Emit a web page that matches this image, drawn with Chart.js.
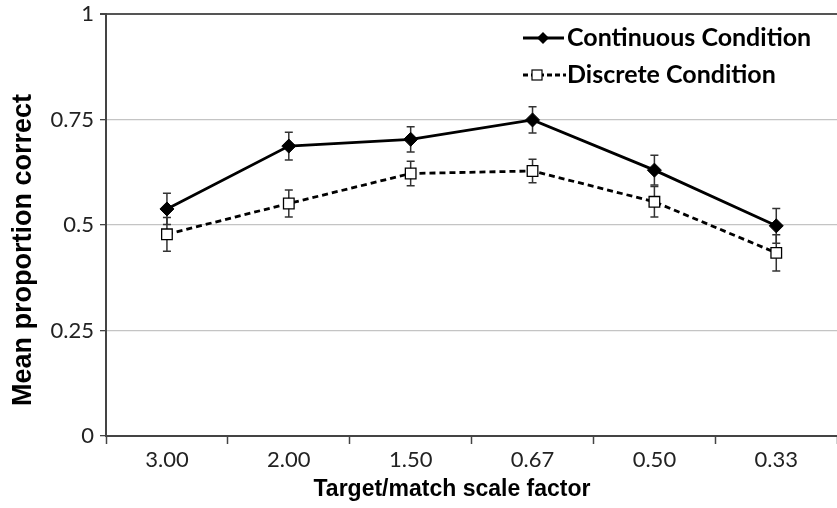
<!DOCTYPE html>
<html>
<head>
<meta charset="utf-8">
<script src="https://cdn.jsdelivr.net/npm/chart.js@4"></script>
<style>
  html, body { margin: 0; padding: 0; background: #fff; overflow: hidden; }
  #chart { display: block; }
</style>
</head>
<body>
<canvas id="chart" width="846" height="508"></canvas>
<script>
const categories = ['3.00', '2.00', '1.50', '0.67', '0.50', '0.33'];
const continuous = [0.538, 0.687, 0.703, 0.749, 0.630, 0.498];
const continuousErr = [0.037, 0.033, 0.030, 0.031, 0.035, 0.041];
const discrete = [0.478, 0.551, 0.622, 0.628, 0.555, 0.434];
const discreteErr = [0.040, 0.032, 0.029, 0.028, 0.036, 0.043];
const yTicks = [0, 0.25, 0.5, 0.75, 1];

const errors = [continuousErr, discreteErr];

// vertical error bars, drawn under the lines and markers
const errorBars = {
    id: 'errorBars',
    beforeDatasetsDraw(chart) {
        const ctx = chart.ctx;
        const y = chart.scales.y;
        ctx.save();
        ctx.strokeStyle = '#333';
        ctx.lineWidth = 1.5;
        chart.data.datasets.forEach((ds, di) => {
            const meta = chart.getDatasetMeta(di);
            meta.data.forEach((pt, i) => {
                const top = y.getPixelForValue(ds.data[i] + errors[di][i]);
                const bot = y.getPixelForValue(ds.data[i] - errors[di][i]);
                ctx.beginPath();
                ctx.moveTo(pt.x, top);
                ctx.lineTo(pt.x, bot);
                ctx.moveTo(pt.x - 4, top);
                ctx.lineTo(pt.x + 4, top);
                ctx.moveTo(pt.x - 4, bot);
                ctx.lineTo(pt.x + 4, bot);
                ctx.stroke();
            });
        });
        ctx.restore();
    }
};

// legend and axis titles
const decorations = {
    id: 'decorations',
    afterDraw(chart) {
        const ctx = chart.ctx;
        ctx.save();

        // axis titles
        ctx.fillStyle = '#000';
        ctx.textAlign = 'center';
        ctx.textBaseline = 'middle';
        ctx.font = 'bold 23px "Liberation Sans", Arial, sans-serif';
        ctx.fillText('Target/match scale factor', 452, 490);
        ctx.save();
        ctx.translate(24, 250);
        ctx.rotate(-Math.PI / 2);
        ctx.font = 'bold 27px "Liberation Sans", Arial, sans-serif';
        ctx.fillText('Mean proportion correct', 0, 0);
        ctx.restore();

        // legend
        ctx.strokeStyle = '#000';
        ctx.lineWidth = 2.8;
        ctx.beginPath();
        ctx.moveTo(523, 38);
        ctx.lineTo(564, 38);
        ctx.stroke();
        ctx.fillStyle = '#000';
        ctx.beginPath();
        ctx.moveTo(543, 32);
        ctx.lineTo(549, 38);
        ctx.lineTo(543, 44);
        ctx.lineTo(537, 38);
        ctx.closePath();
        ctx.fill();

        ctx.setLineDash([5, 3]);
        ctx.beginPath();
        ctx.moveTo(523, 75);
        ctx.lineTo(566, 75);
        ctx.stroke();
        ctx.setLineDash([]);
        ctx.fillStyle = '#fff';
        ctx.lineWidth = 1.2;
        ctx.fillRect(532, 70, 10, 10);
        ctx.strokeRect(532, 70, 10, 10);

        ctx.fillStyle = '#000';
        ctx.textAlign = 'left';
        ctx.font = 'bold 25px Lato, sans-serif';
        ctx.fillText('Continuous Condition', 567, 38);
        ctx.fillText('Discrete Condition', 567, 75);
        ctx.restore();
    }
};

new Chart(document.getElementById('chart'), {
    type: 'line',
    data: {
        labels: categories,
        datasets: [{
            label: 'Continuous Condition',
            data: continuous,
            borderColor: '#000',
            borderWidth: 2.8,
            pointStyle: 'rectRot',
            pointRadius: 7,
            pointBackgroundColor: '#000',
            pointBorderColor: '#000',
            pointBorderWidth: 1
        }, {
            label: 'Discrete Condition',
            data: discrete,
            borderColor: '#000',
            borderWidth: 2.8,
            borderDash: [6, 4],
            pointStyle: 'rect',
            pointRadius: 7.5,
            pointBackgroundColor: '#fff',
            pointBorderColor: '#000',
            pointBorderWidth: 1.3
        }]
    },
    options: {
        responsive: false,
        animation: false,
        layout: { padding: { top: 14, right: 0, bottom: 0, left: 0 } },
        plugins: {
            legend: { display: false },
            tooltip: { enabled: false }
        },
        scales: {
            x: {
                offset: true,
                grid: {
                    offset: true,
                    drawOnChartArea: false,
                    tickLength: 8,
                    tickColor: '#444',
                    tickWidth: 1.5
                },
                border: { color: '#444', width: 2 },
                ticks: {
                    color: '#222',
                    padding: 5,
                    maxRotation: 0,
                    font: { family: 'Lato', size: 22, lineHeight: 1 }
                },
                afterFit(scale) {
                    scale.height = 72;
                    scale.paddingLeft = 0;
                    scale.paddingRight = 0;
                }
            },
            y: {
                min: 0,
                max: 1,
                afterBuildTicks(scale) {
                    scale.ticks = yTicks.map(v => ({ value: v }));
                },
                grid: {
                    color: ctx => (ctx.tick && ctx.tick.value === 1) ? '#555' : '#c4c4c4',
                    lineWidth: ctx => (ctx.tick && ctx.tick.value === 1) ? 2 : 1.3,
                    tickLength: 6,
                    tickColor: '#444'
                },
                border: { color: '#444', width: 2 },
                ticks: {
                    color: '#222',
                    padding: 6,
                    font: { family: 'Lato', size: 22, lineHeight: 1 },
                    callback: v => String(v)
                },
                afterFit(scale) {
                    scale.width = 106;
                    scale.paddingTop = 0;
                    scale.paddingBottom = 0;
                }
            }
        }
    },
    plugins: [errorBars, decorations]
});
</script>
</body>
</html>
